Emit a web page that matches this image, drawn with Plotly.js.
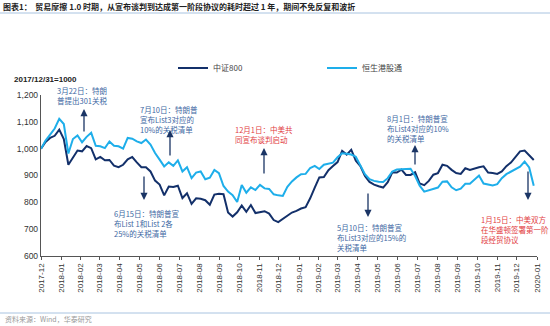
<!DOCTYPE html>
<html><head><meta charset="utf-8">
<script src="https://cdn.plot.ly/plotly-3.0.1.min.js"></script>
<style>html,body{margin:0;padding:0;background:#fff;}#chart{width:550px;height:326px;}</style>
</head><body><div id="chart"></div>
<script>
const startDate = '2017-12-29';
const csi800 = [1000,1025,1040,1048,1071,1036,940,968,993,990,
1010,1002,960,969,957,958,937,931,940,960,
969,949,931,931,915,881,866,826,859,857,
862,816,834,794,815,813,808,791,829,832,
830,762,747,763,788,765,790,760,764,767,
758,734,726,738,752,762,768,777,782,815,
855,893,894,920,935,950,992,978,996,955,
935,898,876,866,860,855,875,912,911,922,
902,902,912,870,864,880,903,909,940,936,
921,909,906,927,921,927,931,934,911,909,
906,915,935,948,970,990,993,975,958];
const hsConnect = [1000,1030,1052,1075,1111,1092,982,1036,1049,1024,
1044,1059,1011,1009,1002,1027,1011,1009,1000,1040,
1037,1027,1021,1034,1015,984,959,934,949,936,
956,915,931,890,911,915,886,892,921,909,
861,840,827,801,865,836,856,846,865,852,
850,830,826,824,858,878,893,905,906,928,
936,924,940,945,948,968,983,981,978,970,
940,905,886,880,877,876,890,915,922,923,
924,925,898,862,840,845,851,855,877,878,
856,845,851,869,869,883,900,870,867,863,
868,890,905,915,926,933,952,930,862];
const seriesNames = ['中证800','恒生港股通'];
const monthLabels = ['2017-12','2018-01','2018-02','2018-03','2018-04','2018-05','2018-06','2018-07','2018-08','2018-09','2018-10','2018-11','2018-12','2019-01','2019-02','2019-03','2019-04','2019-05','2019-06','2019-07','2019-08','2019-09','2019-10','2019-11','2019-12','2020-01'];

// weekly dates
const dates = [];
{
  const d0 = new Date(startDate + 'T00:00:00Z');
  for (let i = 0; i < csi800.length; i++) {
    const d = new Date(d0.getTime() + i * 7 * 86400000);
    dates.push(d.toISOString().slice(0,10));
  }
}
const tickVals = monthLabels.map(m => m + (m.endsWith('-02') ? '-28' : '-29'));

// layout geometry helpers (pixel -> paper)
const L = 41, R = 537, T = 95, B = 256;
const px = x => (x - L) / (R - L);
const py = y => (B - y) / (B - T);

const blue = '#3d67a3', red = '#e2403f', navy = '#1b3565';
const cjk = '"Noto Sans CJK SC", "Liberation Sans", sans-serif';

function note(text, x, y, color) {
  return {text: text, xref:'paper', yref:'paper', x: px(x), y: py(y), xanchor:'left', yanchor:'top',
    align:'left', showarrow:false, font:{family:cjk, size:7.5, color:color}};
}
function arrow(x, yHead, yTail) {
  return {text:'', xref:'paper', yref:'paper', x: px(x), y: py(yHead), ax: 0, ay: yTail - yHead,
    showarrow:true, arrowhead:2, arrowsize:1.1, arrowwidth:1.3, arrowcolor:navy};
}
function legendBox(x) {
  return {orientation:'h', xref:'paper', yref:'paper', x:px(x), y:py(68), xanchor:'left', yanchor:'middle',
    font:{family:cjk, size:8, color:'#444'}, bgcolor:'rgba(0,0,0,0)', borderwidth:0};
}

const traces = [
  {x: dates, y: csi800, name: seriesNames[0], type:'scatter', mode:'lines', line:{color:'#13306a', width:2}, legend:'legend'},
  {x: dates, y: hsConnect, name: seriesNames[1], type:'scatter', mode:'lines', line:{color:'#1eaeea', width:2}, legend:'legend2'}
];

const layout = {
  width:550, height:326,
  margin:{l:L, r:550-R, t:T, b:326-B},
  paper_bgcolor:'#fff', plot_bgcolor:'#fff',
  font:{family:'"Liberation Sans", Arial, sans-serif', size:8, color:'#333'},
  title:{text:'<b>图表1：  贸易摩擦 1.0 时期，从宣布谈判到达成第一阶段协议的耗时超过 1 年，期间不免反复和波折</b>',
    xref:'container', yref:'container', x:3/550, y:1-7/326, xanchor:'left', yanchor:'middle',
    font:{family:cjk, size:8, color:'#222'}},
  showlegend:true,
  legend: legendBox(173),
  legend2: legendBox(322),
  xaxis:{type:'date', range:[tickVals[0], tickVals[tickVals.length-1]], tickvals:tickVals, ticktext:monthLabels,
    tickangle:-90, showgrid:false, zeroline:false, showline:true, linecolor:'#555', linewidth:1.2,
    ticks:'outside', ticklen:3, tickcolor:'#555', tickfont:{size:8, color:'#333'}},
  yaxis:{range:[600,1200], dtick:100, tickformat:',d', showgrid:false, zeroline:false, showline:true,
    linecolor:'#555', linewidth:1.2, ticks:'', tickfont:{size:8.5, color:'#333'}},
  shapes:[
    {type:'line', xref:'paper', yref:'paper', x0:px(0), x1:px(550), y0:py(13), y1:py(13), line:{color:'#a8c3e0', width:1}},
    {type:'line', xref:'paper', yref:'paper', x0:px(0), x1:px(550), y0:py(313), y1:py(313), line:{color:'#a8c3e0', width:1}}
  ],
  annotations:[
    {text:'<b>2017/12/31=1000</b>', xref:'paper', yref:'paper', x:px(12), y:py(80), xanchor:'left', yanchor:'middle',
      showarrow:false, font:{size:8, color:'#222'}},
    {text:'资料来源：Wind，华泰研究', xref:'paper', yref:'paper', x:px(3), y:py(319), xanchor:'left', yanchor:'middle',
      showarrow:false, font:{family:cjk, size:7, color:'#999'}},
    note('3月22日：特朗<br>普提出301关税', 55, 83, blue),
    note('7月10日：特朗普<br>宣布List3对应的<br>10%的关税清单', 138, 102, blue),
    note('12月1日：中美共<br>同宣布谈判启动', 233, 122, red),
    note('8月1日：特朗普宣<br>布List4对应的10%<br>的关税清单', 385, 111, blue),
    note('6月15日：特朗普宣<br>布List 1和List 2各<br>25%的关税清单', 112, 206, blue),
    note('5月10日：特朗普宣<br>布List3对应的15%的<br>关税清单', 335, 220, blue),
    note('1月15日：中美双方<br>在华盛顿签署第一阶<br>段经贸协议', 479, 212, red),
    arrow(84, 109, 133),
    arrow(170, 130, 157),
    arrow(264, 148, 175),
    arrow(415, 145, 166),
    arrow(144, 200, 175),
    arrow(368, 217, 192),
    arrow(528, 200, 170)
  ]
};
Plotly.newPlot('chart', traces, layout, {displayModeBar:false, staticPlot:true});
</script></body></html>
